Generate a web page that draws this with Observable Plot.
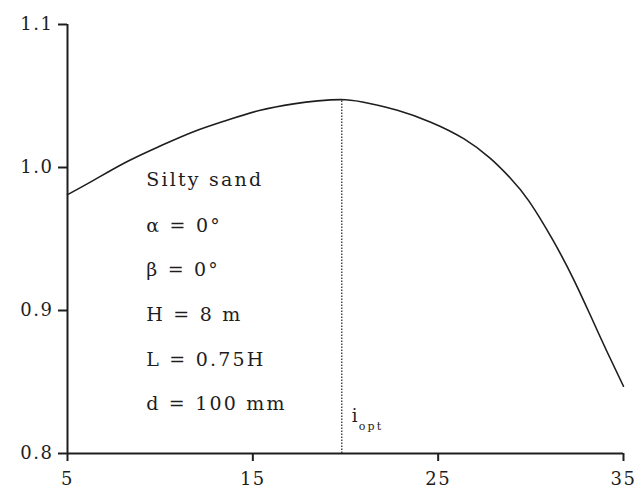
<!DOCTYPE html>
<html>
<head>
<meta charset="utf-8">
<script src="https://cdn.jsdelivr.net/npm/d3@7"></script>
<script src="https://cdn.jsdelivr.net/npm/@observablehq/plot@0.6"></script>
<style>
  html, body { margin: 0; padding: 0; background: #fff; }
  #chart svg { display: block; }
  #chart svg g[aria-label="text"] text { letter-spacing: 2.2px; }
  #chart svg g[aria-label="y-axis tick label"] text,
  #chart svg g[aria-label="x-axis tick label"] text { letter-spacing: 1.5px; }
</style>
</head>
<body>
<div id="chart"></div>
<script>
// Curve: ratio against spacing
const spacing = [5, 6.4, 8.2, 10, 11.8, 13.6, 15.4, 17.2, 18.5, 20.0, 21.3, 22.8, 24.6, 26.4, 27.8, 28.9, 29.9, 31.2, 32.3, 33.2, 34.1, 35];
const ratio   = [0.981, 0.991, 1.004, 1.015, 1.025, 1.033, 1.040, 1.0445, 1.0466, 1.0474, 1.0448, 1.040, 1.0317, 1.020, 1.0065, 0.9925, 0.9765, 0.949, 0.922, 0.897, 0.8715, 0.847];

// Optimum position
const optX = 19.8;
const optY = 1.0473;

// Axis ticks
const xTicks = [5, 15, 25, 35];
const yTicks = [0.8, 0.9, 1.0, 1.1];

// Parameter block
const noteLines = ["Silty sand", "α = 0°", "β = 0°", "H = 8 m", "L = 0.75H", "d = 100 mm"];
const noteY     = [0.991, 0.9594, 0.9287, 0.8972, 0.8657, 0.835];
const noteX = 9.25;

const curve = spacing.map((x, i) => ({x, y: ratio[i]}));
const notes = noteLines.map((t, i) => ({t, x: noteX, y: noteY[i]}));

const font = "DejaVu Serif";
const ink = "#1e1e1e";

const chart = Plot.plot({
  width: 640,
  height: 491,
  marginLeft: 67,
  marginRight: 17,
  marginTop: 24,
  marginBottom: 38,
  style: {fontFamily: font, fontSize: "18px", color: ink, background: "#fff"},
  x: {domain: [5, 35]},
  y: {domain: [0.8, 1.1]},
  marks: [
    Plot.axisX({ticks: xTicks, tickSize: 8, tickPadding: 11, label: null, strokeWidth: 2, fontSize: 18, tickFormat: d3.format("d")}),
    Plot.axisY({ticks: yTicks, tickSize: 9, tickPadding: 5, label: null, strokeWidth: 2, fontSize: 18, tickFormat: d3.format(".1f")}),
    Plot.ruleY([0.8], {stroke: ink, strokeWidth: 2}),
    Plot.ruleX([5], {stroke: ink, strokeWidth: 2}),
    Plot.ruleX([optX], {y1: 0.8, y2: optY, stroke: ink, strokeWidth: 1.2, strokeDasharray: "1.5,1.5"}),
    Plot.line(curve, {x: "x", y: "y", curve: "natural", stroke: ink, strokeWidth: 1.6}),
    Plot.text(notes, {x: "x", y: "y", text: "t", textAnchor: "start", fontSize: 19, fill: ink}),
    Plot.text(["i"], {x: () => optX, y: () => 0.8, text: d => d, textAnchor: "start", dx: 10, dy: -37, fontSize: 18, fill: ink}),
    Plot.text(["opt"], {x: () => optX, y: () => 0.8, text: d => d, textAnchor: "start", dx: 17, dy: -27, fontSize: 11, fill: ink})
  ]
});

document.getElementById("chart").appendChild(chart);
</script>
</body>
</html>
